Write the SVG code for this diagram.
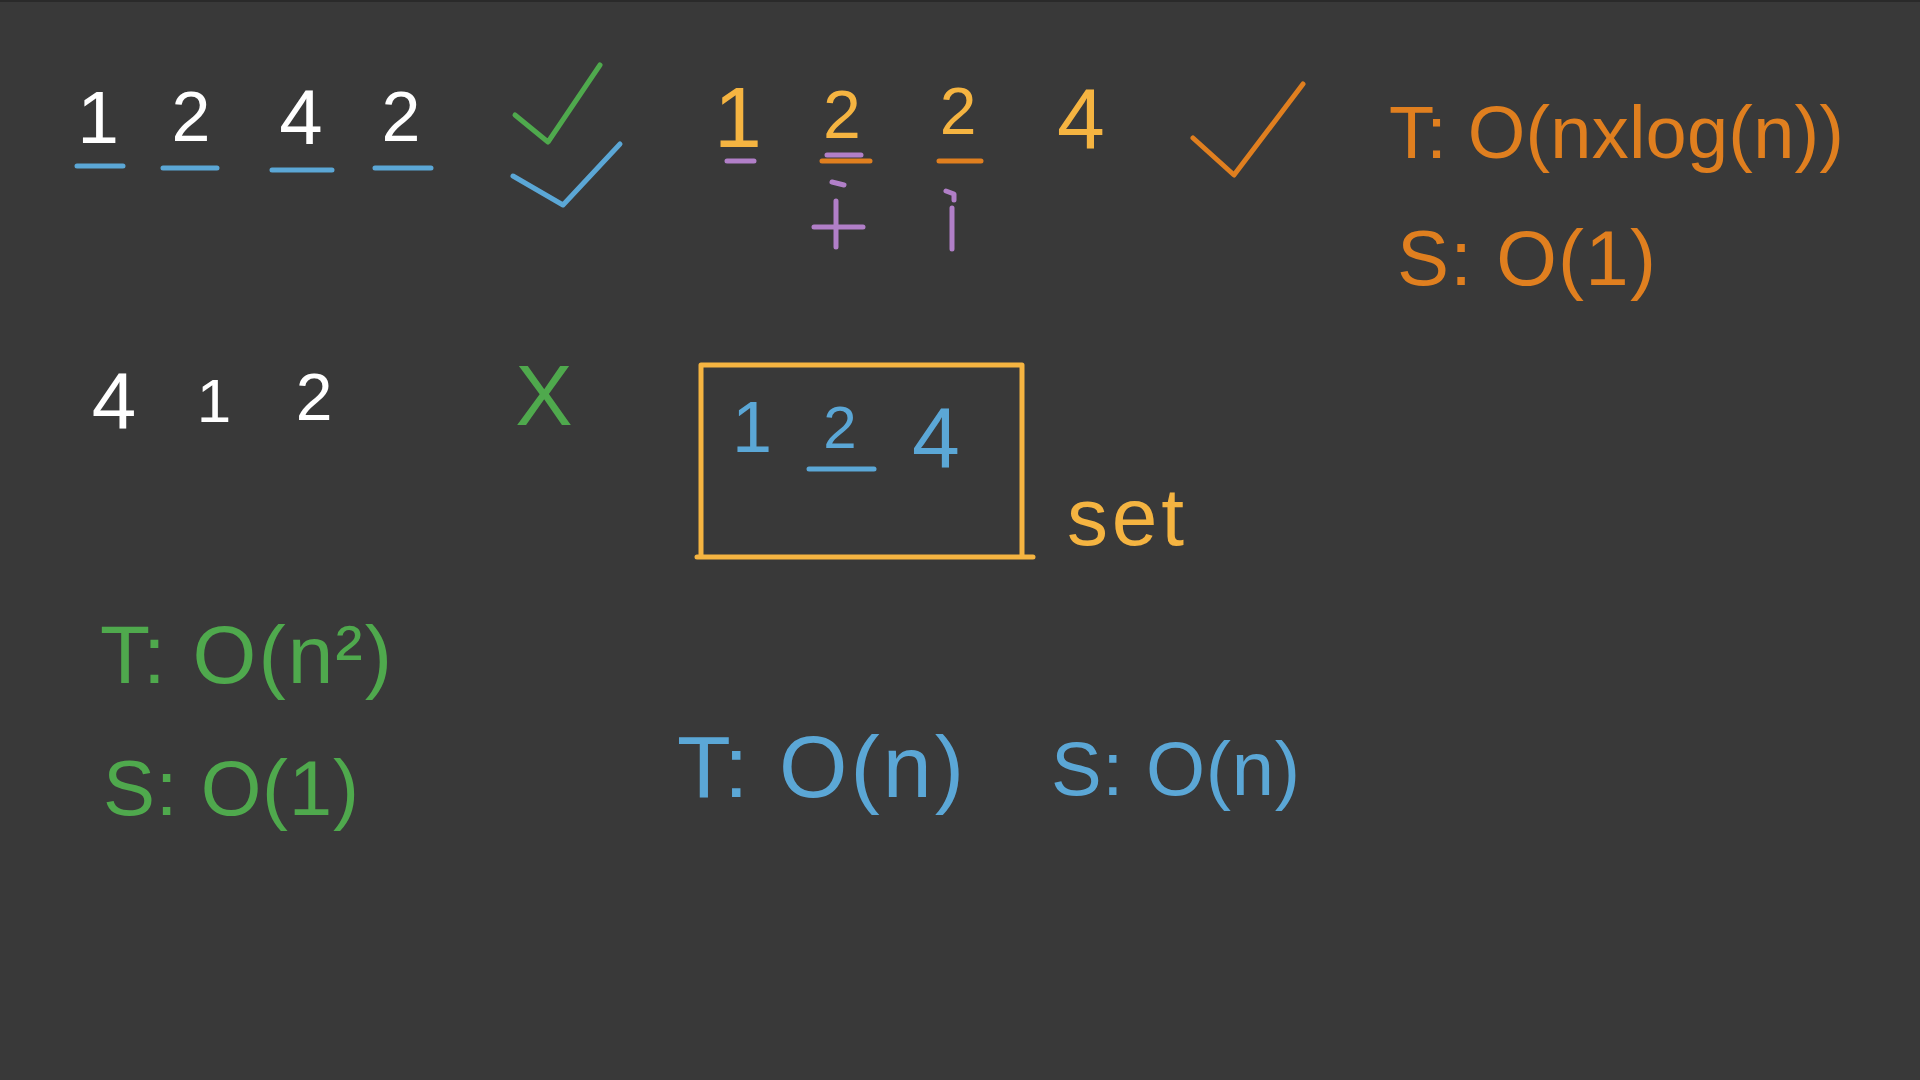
<svg xmlns="http://www.w3.org/2000/svg" width="1920" height="1080" viewBox="0 0 1920 1080">
<style>
text{font-family:"Liberation Sans","DejaVu Sans",sans-serif;}
.w{fill:#ffffff}
.y{fill:#f5b441}
.o{fill:#e07f1f}
.g{fill:#4fa94d}
.b{fill:#5ba7d6}
.m{text-anchor:middle}
.s{fill:none;stroke-linecap:round;stroke-linejoin:round;stroke-width:5}
.sb{stroke:#5ba7d6}
.sg{stroke:#4fa94d}
.so{stroke:#e07f1f}
.sy{stroke:#f5b441}
.sp{stroke:#b17fc8}
</style>
<rect width="1920" height="1080" fill="#393939"/>
<rect width="1920" height="2" fill="#2a2a2a"/>

<g id="row1">
<text class="w m" x="98" y="143" font-size="75">1</text>
<text class="w m" x="191" y="141" font-size="70">2</text>
<text class="w m" x="301" y="144" font-size="78">4</text>
<text class="w m" x="401" y="141" font-size="70">2</text>
<path class="s sb" d="M77 166H123M163 168H217M272 170H332M375 168H431"/>
<path class="s sg" d="M515 115L548 142L600 65"/>
<path class="s sb" d="M513 176L563 205L620 144"/>
</g>

<g id="sorted">
<text class="y m" x="738" y="147" font-size="86">1</text>
<text class="y m" x="842" y="138" font-size="68">2</text>
<text class="y m" x="958" y="134" font-size="66">2</text>
<text class="y m" x="1081" y="148" font-size="86">4</text>
<path class="s sp" d="M727 161H754M827 155H861"/>
<path class="s so" d="M822 161H870M939 161H981"/>
<path class="s sp" d="M814 227H863M836 201V247M832 182L844 185"/>
<path class="s sp" d="M952 208V249M946 191L954 194V200"/>
<path class="s so" d="M1193 138L1234 175L1303 84"/>
</g>

<g id="sortCost">
<text class="o" x="1389" y="158" font-size="74" textLength="455" lengthAdjust="spacing">T: O(nxlog(n))</text>
<text class="o" x="1397" y="285" font-size="78" textLength="259" lengthAdjust="spacing">S: O(1)</text>
</g>

<g id="row2">
<text class="w m" x="114" y="428" font-size="80">4</text>
<text class="w m" x="214" y="422" font-size="62">1</text>
<text class="w m" x="314" y="420" font-size="66">2</text>
<text class="g m" x="544" y="425" font-size="86">X</text>
</g>

<g id="bruteCost">
<text class="g" x="100" y="683" font-size="82" textLength="292" lengthAdjust="spacing">T: O(n²)</text>
<text class="g" x="103" y="815" font-size="78" textLength="256" lengthAdjust="spacing">S: O(1)</text>
</g>

<g id="set">
<path class="s sy" d="M701 557V365H1022V557M697 557H1033"/>
<text class="b m" x="752" y="452" font-size="72">1</text>
<text class="b m" x="840" y="448" font-size="60">2</text>
<text class="b m" x="936" y="467" font-size="86">4</text>
<path class="s sb" d="M809 469H874"/>
<text class="y" x="1067" y="545" font-size="82" textLength="117" lengthAdjust="spacing">set</text>
</g>

<g id="setCost">
<text class="b" x="677" y="797" font-size="88" textLength="287" lengthAdjust="spacing">T: O(n)</text>
<text class="b" x="1051" y="795" font-size="76" textLength="249" lengthAdjust="spacing">S: O(n)</text>
</g>
</svg>
